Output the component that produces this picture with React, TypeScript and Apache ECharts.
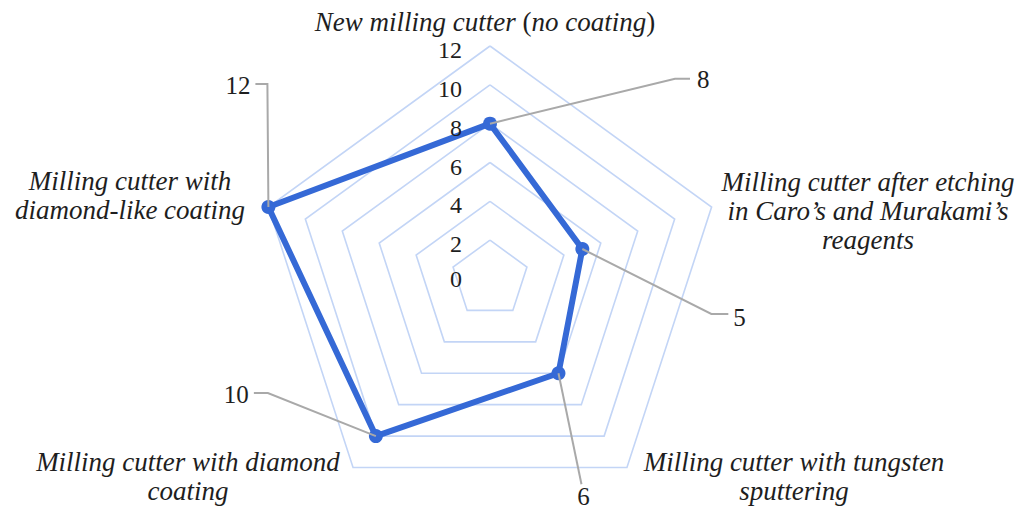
import React, { useEffect, useRef } from 'react';
import * as echarts from 'echarts';

// Radar indicators, listed in ECharts' drawing order (top, then counter-clockwise)
const indicatorNames = [
  'New milling cutter (no coating)',
  'Milling cutter with\ndiamond-like coating',
  'Milling cutter with diamond\ncoating',
  'Milling cutter with tungsten\nsputtering',
  "Milling cutter after etching\nin Caro\u2019s and Murakami\u2019s\nreagents",
];
const cutterScores = [8, 12, 10, 6, 5];
const axisMax = 12;
const ringTicks = [0, 2, 4, 6, 8, 10, 12];

const WIDTH = 1015;
const HEIGHT = 509;
const CENTER: [number, number] = [490, 279];
const RADIUS = 233;

const SERIF = 'Liberation Serif';
const INK = '#1e1e1e';
const LINE_BLUE = '#3569d6';
const RING_BLUE = '#c3d5f6';
const LEADER_GREY = '#a9a9a9';
const NAME_SIZE = 27;

// Where each indicator's caption block is centred
const namePlacement: [number, number][] = [
  [485, 22],
  [130, 195],
  [188, 476],
  [794, 476],
  [868, 211],
];

// Leader geometry relative to each data point: elbow, end, label anchor, alignment
const leaderLayout: { elbow: [number, number]; end: [number, number]; label: [number, number]; align: string }[] = [
  { elbow: [185, -45], end: [200, -45], label: [207, -44], align: 'left' },
  { elbow: [-1, -123], end: [-13, -123], label: [-18, -121], align: 'right' },
  { elbow: [-108, -43], end: [-122, -43], label: [-127, -42], align: 'right' },
  { elbow: [23, 111], end: [23, 111], label: [25, 123], align: 'center' },
  { elbow: [129, 65], end: [146, 65], label: [151, 69], align: 'left' },
];

export default function App() {
  const ref = useRef<HTMLDivElement>(null);

  useEffect(() => {
    document.body.style.margin = '0';
    const el = ref.current;
    if (!el) return;
    const chart = echarts.init(el, null, { renderer: 'svg' });

    chart.setOption({
      animation: false,
      backgroundColor: '#ffffff',
      radar: {
        center: CENTER,
        radius: RADIUS,
        startAngle: 90,
        splitNumber: 6,
        shape: 'polygon',
        indicator: indicatorNames.map((name) => ({ name, min: 0, max: axisMax })),
        axisName: { show: false },
        axisLine: { show: false },
        axisTick: { show: false },
        axisLabel: { show: false },
        splitArea: { show: false },
        splitLine: { lineStyle: { color: RING_BLUE, width: 1.6 } },
      },
      series: [
        {
          type: 'radar',
          symbol: 'circle',
          symbolSize: 14,
          lineStyle: { color: LINE_BLUE, width: 6 },
          itemStyle: { color: LINE_BLUE },
          data: [{ value: cutterScores, name: 'Cutters' }],
        },
      ],
    });

    const radarCS = (chart as any).getModel().getComponent('radar').coordinateSystem;
    const toPoint = (v: number, i: number): [number, number] => {
      if (radarCS && radarCS.dataToPoint) return radarCS.dataToPoint(v, i);
      const a = Math.PI / 2 + (i * 2 * Math.PI) / indicatorNames.length;
      const r = (v / axisMax) * RADIUS;
      return [CENTER[0] + r * Math.cos(a), CENTER[1] - r * Math.sin(a)];
    };

    const graphics: any[] = [];

    // Tick labels along the top axis
    ringTicks.forEach((t) => {
      const p = toPoint(t, 0);
      graphics.push({
        type: 'text',
        x: p[0] - 28,
        y: p[1] + (t === 0 ? 0 : 4),
        z: 10,
        style: {
          text: String(t),
          fontFamily: SERIF,
          fontSize: 24,
          fill: INK,
          align: 'right',
          verticalAlign: 'middle',
        },
      });
    });

    // Indicator captions
    indicatorNames.forEach((name, i) => {
      const [x, y] = namePlacement[i];
      const m = name.match(/^(.*) \((.*)\)$/);
      const style: any = {
        fontFamily: SERIF,
        fontSize: NAME_SIZE,
        fontStyle: 'italic',
        fill: INK,
        align: 'center',
        verticalAlign: 'middle',
        lineHeight: 29,
      };
      if (m) {
        style.text = `{i|${m[1]} }{u|(}{i|${m[2]}}{u|)}`;
        style.rich = {
          i: { fontFamily: SERIF, fontSize: NAME_SIZE, fontStyle: 'italic', fill: INK },
          u: { fontFamily: SERIF, fontSize: NAME_SIZE, fontStyle: 'normal', fill: INK },
        };
      } else {
        style.text = name;
      }
      graphics.push({ type: 'text', x, y, z: 10, style });
    });

    // Value leaders and labels
    cutterScores.forEach((v, i) => {
      const p = toPoint(v, i);
      const lay = leaderLayout[i];
      graphics.push({
        type: 'polyline',
        z: 20,
        shape: {
          points: [
            [p[0], p[1]],
            [p[0] + lay.elbow[0], p[1] + lay.elbow[1]],
            [p[0] + lay.end[0], p[1] + lay.end[1]],
          ],
        },
        style: { stroke: LEADER_GREY, lineWidth: 2, fill: null },
      });
      graphics.push({
        type: 'text',
        x: p[0] + lay.label[0],
        y: p[1] + lay.label[1],
        z: 20,
        style: {
          text: String(v),
          fontFamily: SERIF,
          fontSize: 25,
          fill: INK,
          align: lay.align,
          verticalAlign: 'middle',
        },
      });
    });

    chart.setOption({ graphic: graphics });

    return () => chart.dispose();
  }, []);

  return <div ref={ref} style={{ width: WIDTH, height: HEIGHT }} />;
}
